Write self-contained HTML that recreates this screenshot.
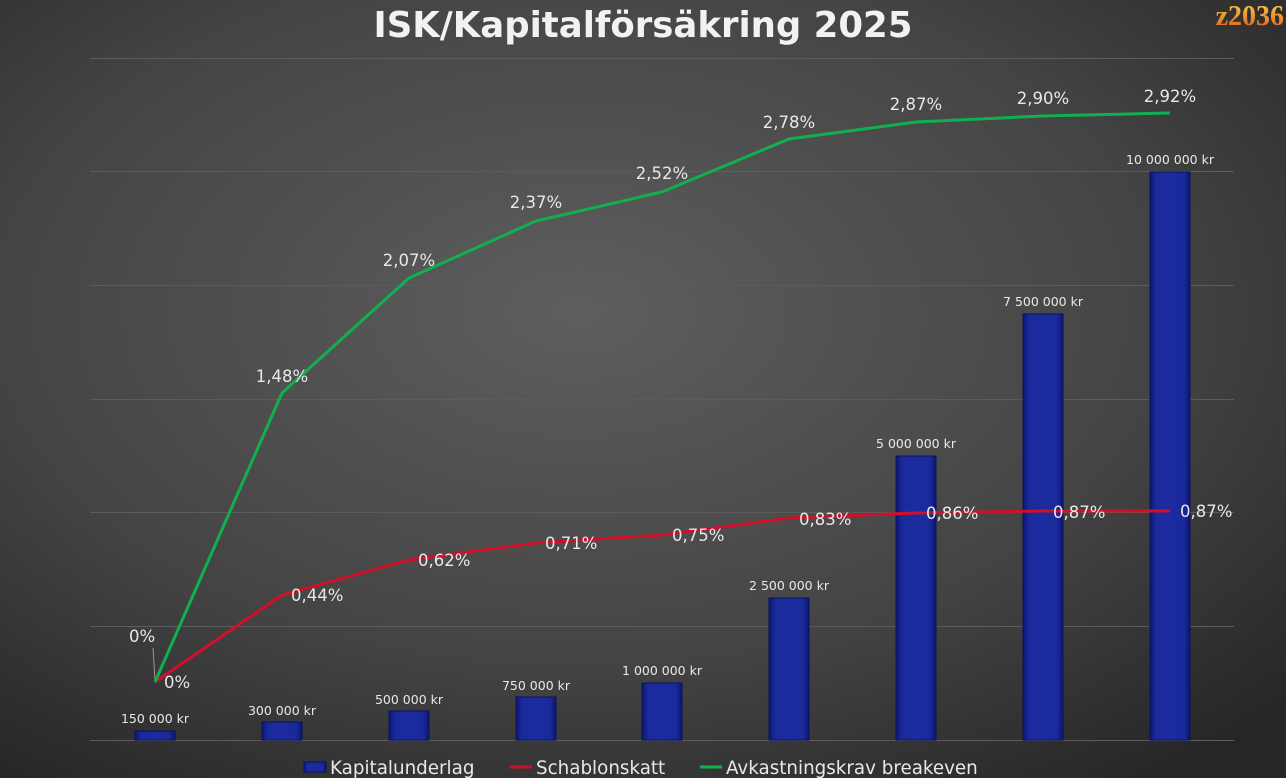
<!DOCTYPE html>
<html><head><meta charset="utf-8"><style>
html,body{margin:0;padding:0;width:1286px;height:778px;overflow:hidden;background:#333}
svg{display:block}
text{font-family:"DejaVu Sans","Liberation Sans",sans-serif}
text.logo{font-family:"Liberation Serif","DejaVu Serif",serif}
</style></head><body>
<svg width="1286" height="778" viewBox="0 0 1286 778" xmlns="http://www.w3.org/2000/svg">
<defs>
<radialGradient id="bg" cx="45%" cy="40%" r="75%">
<stop offset="0" stop-color="#5e5e5e"/><stop offset="0.6" stop-color="#444"/><stop offset="1" stop-color="#262626"/>
</radialGradient>
<linearGradient id="bar" x1="0" y1="0" x2="1" y2="0">
<stop offset="0" stop-color="#0a1670"/><stop offset="0.15" stop-color="#1a2a9a"/><stop offset="0.5" stop-color="#1c2ca0"/><stop offset="0.85" stop-color="#1a2a9a"/><stop offset="1" stop-color="#0a1670"/>
</linearGradient>
<linearGradient id="logo" x1="0" y1="0" x2="0" y2="1">
<stop offset="0" stop-color="#ffd24a"/><stop offset="1" stop-color="#d8551a"/>
</linearGradient>
</defs>
<rect width="1286" height="778" fill="url(#bg)"/>
<text x="643" y="37" text-anchor="middle" font-size="35.5" font-weight="bold" fill="#f2f2f2">ISK/Kapitalförsäkring 2025</text>
<text class="logo" x="1284" y="25" text-anchor="end" font-size="28" font-weight="bold" fill="url(#logo)">z2036</text>
<g stroke="#5c5c5c" stroke-width="1">
<line x1="90" y1="58.5" x2="1234" y2="58.5"/><line x1="90" y1="171.5" x2="1234" y2="171.5"/>
<line x1="90" y1="285.5" x2="1234" y2="285.5"/><line x1="90" y1="399.5" x2="1234" y2="399.5"/>
<line x1="90" y1="512.5" x2="1234" y2="512.5"/><line x1="90" y1="626.5" x2="1234" y2="626.5"/>
<line x1="90" y1="740.5" x2="1234" y2="740.5"/>
</g>
<g fill="url(#bar)" stroke="#0a1260" stroke-width="1">
<rect x="135" y="731" width="40" height="9"/>
<rect x="262" y="722" width="40" height="18"/>
<rect x="389" y="711" width="40" height="29"/>
<rect x="516" y="697" width="40" height="43"/>
<rect x="642" y="683" width="40" height="57"/>
<rect x="769" y="598" width="40" height="142"/>
<rect x="896" y="456" width="40" height="284"/>
<rect x="1023" y="314" width="40" height="426"/>
<rect x="1150" y="172" width="40" height="568"/>
</g>
<g fill="#e8e8e8" font-size="12.5" text-anchor="middle">
<text x="155" y="723">150 000 kr</text><text x="282" y="715">300 000 kr</text>
<text x="409" y="704">500 000 kr</text><text x="536" y="690">750 000 kr</text>
<text x="662" y="675">1 000 000 kr</text><text x="789" y="590">2 500 000 kr</text>
<text x="916" y="448">5 000 000 kr</text><text x="1043" y="306">7 500 000 kr</text>
<text x="1170" y="164">10 000 000 kr</text>
</g>
<line x1="153" y1="648" x2="155" y2="680" stroke="#999" stroke-width="1"/>
<polyline fill="none" stroke="#d0102a" stroke-width="3" points="155,682 282,595 409,560 536,543 662,535 789,518 916,513 1043,511 1170,511"/>
<polyline fill="none" stroke="#10b050" stroke-width="3" points="155,682 282,393 409,278 536,221 662,192 789,139 916,122 1043,116 1170,113"/>
<g fill="#e8e8e8" font-size="16.5">
<text x="129" y="642">0%</text><text x="164" y="688">0%</text>
<text x="291" y="601">0,44%</text><text x="418" y="566">0,62%</text>
<text x="545" y="549">0,71%</text><text x="672" y="541">0,75%</text>
<text x="799" y="525">0,83%</text><text x="926" y="519">0,86%</text>
<text x="1053" y="518">0,87%</text><text x="1180" y="517">0,87%</text>
</g>
<g fill="#e8e8e8" font-size="16.5" text-anchor="middle">
<text x="282" y="382">1,48%</text><text x="409" y="266">2,07%</text>
<text x="536" y="208">2,37%</text><text x="662" y="179">2,52%</text>
<text x="789" y="128">2,78%</text><text x="916" y="110">2,87%</text>
<text x="1043" y="104">2,90%</text><text x="1170" y="102">2,92%</text>
</g>
<rect x="304" y="762" width="22" height="10" fill="url(#bar)" stroke="#0a1260"/>
<text x="330" y="774" font-size="18.3" fill="#e8e8e8">Kapitalunderlag</text>
<line x1="510" y1="767" x2="532" y2="767" stroke="#d0102a" stroke-width="3"/>
<text x="536" y="774" font-size="18.3" fill="#e8e8e8">Schablonskatt</text>
<line x1="700" y1="767" x2="722" y2="767" stroke="#10b050" stroke-width="3"/>
<text x="726" y="774" font-size="18.3" fill="#e8e8e8">Avkastningskrav breakeven</text>
</svg>
</body></html>
